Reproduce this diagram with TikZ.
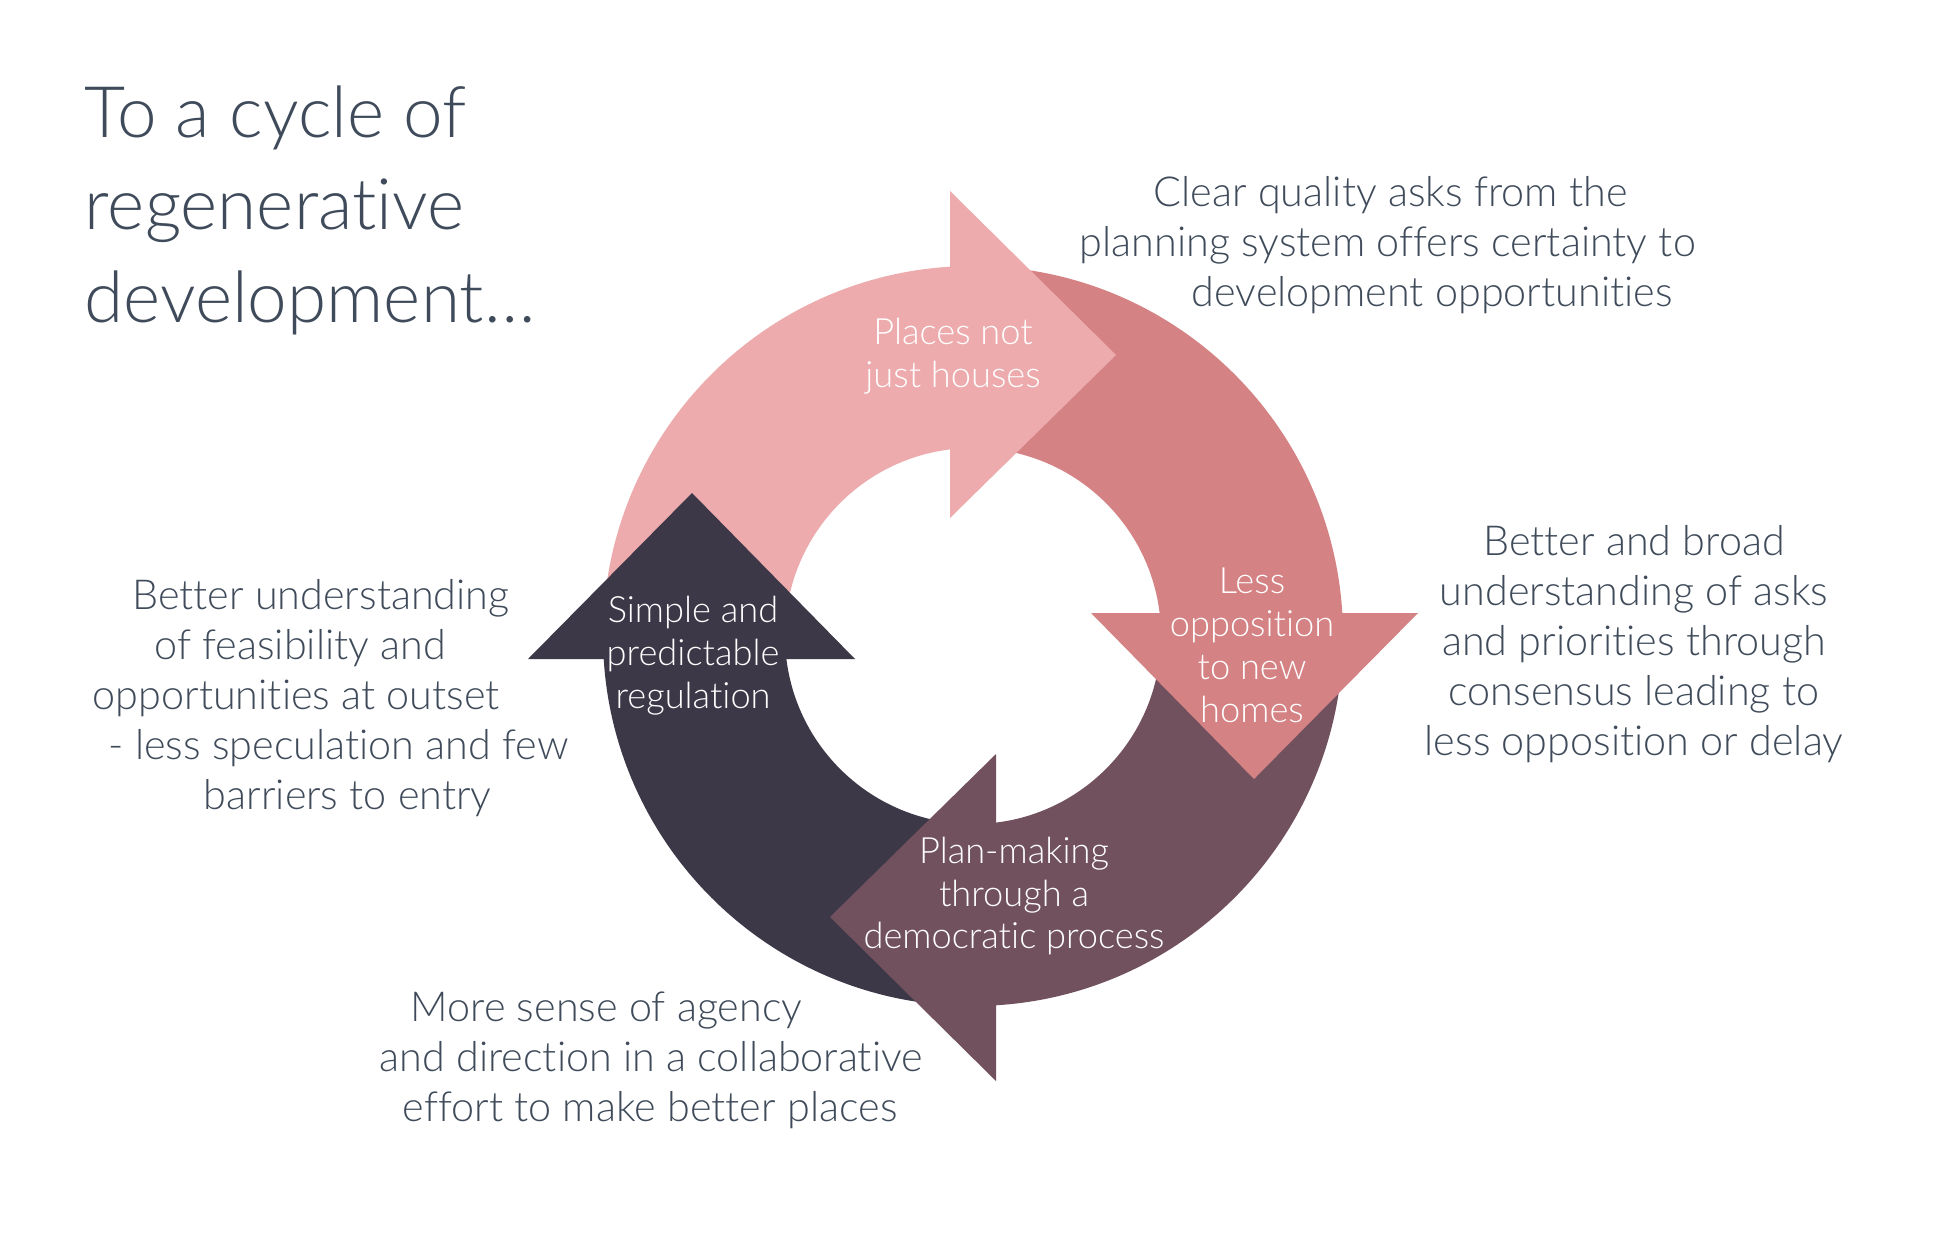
\documentclass[tikz,border=0pt]{standalone}
\usepackage{fontspec}
\setmainfont{Lato Light}[Ligatures={NoCommon}]
\definecolor{textgrey}{RGB}{63,75,90}
\definecolor{pinkA}{RGB}{237,171,173}
\definecolor{pinkB}{RGB}{213,130,132}
\definecolor{mauve}{RGB}{114,81,95}
\definecolor{slate}{RGB}{60,56,72}
\begin{document}
\begin{tikzpicture}[x=0.01cm,y=0.01cm,
    sidetext/.style={text=textgrey,font=\fontsize{11.75}{14.2}\selectfont,inner sep=0},
    arrowtext/.style={text=white,font=\fontsize{10.3}{12.2}\selectfont,align=center,inner sep=0}]
\useasboundingbox (0,0) rectangle (1934,-1252);
\fill[white] (0,0) rectangle (1934,-1252);
%ring bodies
\foreach \r/\c in {0/pinkA,-90/pinkB,-180/mauve,-270/slate}{
    \fill[\c,shift={(973,-636)},rotate=\r] (180:370) arc[start angle=180,end angle=90,radius=370]
        -- (90:188) arc[start angle=90,end angle=180,radius=188] -- cycle;
}
%heads
\foreach \r/\c in {0/pinkA,-90/pinkB,-180/mauve,-270/slate}{
    \fill[\c,shift={(973,-636)},rotate=\r] (-23,118) -- (-23,445) -- (143,281) -- cycle;
}
%labels on the ring
\node[arrowtext] (places) at (953,-356) {Places not\\just houses};
\node[arrowtext] (less) at (1252,-645) {Less\\opposition\\to new\\homes};
\node[arrowtext] (planmaking) at (1014,-896) {Plan-making\\through a\\democratic process};
\node[arrowtext] (simple) at (693,-656) {Simple and\\predictable\\regulation};
%title
\node[anchor=north west,inner sep=0,text=textgrey,font=\fontsize{20.2}{26.3}\selectfont,align=left] (title) at (84,-85)
    {To a cycle of\\regenerative\\development…};
%side texts
\node[sidetext,anchor=north west,align=left] (asks) at (1079,-176)
    {\hspace*{0.74cm}Clear quality asks from the\\planning system offers certainty to\\\hspace*{1.12cm}development opportunities};
\node[sidetext,anchor=north,align=center] (broad) at (1634,-525)
    {Better and broad\\understanding of asks\\and priorities through\\consensus leading to\\less opposition or delay};
\node[sidetext,anchor=north west,align=left] (feasibility) at (92,-579)
    {\hspace*{0.395cm}Better understanding\\\hspace*{0.617cm}of feasibility and\\opportunities at outset\\\hspace*{0.16cm}- less speculation and few\\\hspace*{1.11cm}barriers to entry};
\node[sidetext,anchor=north west,align=left] (agency) at (379,-991)
    {\hspace*{0.31cm}More sense of agency\\and direction in a collaborative\\\hspace*{0.23cm}effort to make better places};
\end{tikzpicture}
\end{document}
